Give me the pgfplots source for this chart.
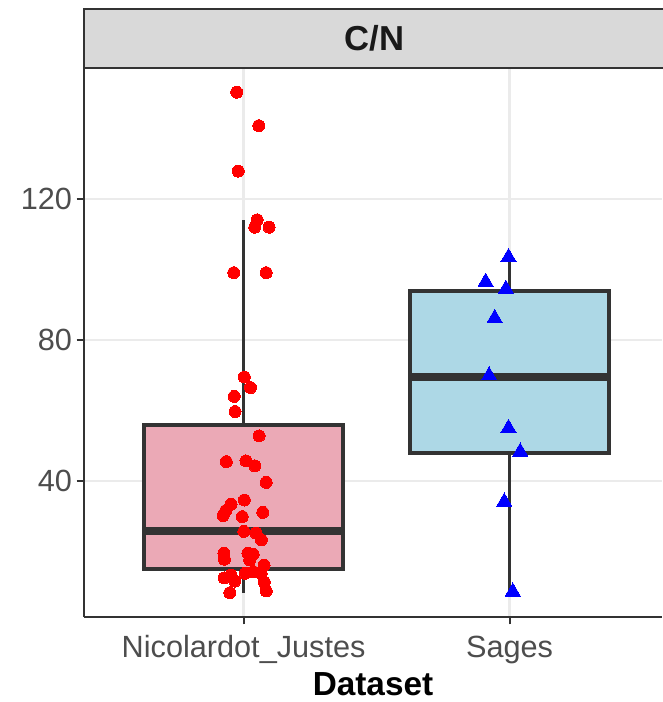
\documentclass[border=0pt]{standalone}
\usepackage{pgfplots}
\pgfplotsset{compat=1.18}
\usepackage{fontspec}
\setmainfont{Liberation Sans}
\definecolor{gridgray}{HTML}{EBEBEB}
\definecolor{dark}{HTML}{333333}
\definecolor{ticktext}{HTML}{4D4D4D}
\definecolor{stripfill}{HTML}{D9D9D9}
\definecolor{boxpink}{HTML}{EBA9B6}
\definecolor{boxblue}{HTML}{ADD8E6}

\begin{document}
\begin{tikzpicture}
\begin{axis}[
  name=ax, at={(0,0)}, anchor=south west,
  scale only axis, width=433.5pt, height=411.75pt,
  xmin=0.4, xmax=2.573, ymin=1.42, ymax=157.16,
  axis lines=left, axis line style={-, draw=dark, line width=1.5pt},
  xtick={1,2}, xticklabels={Nicolardot\_Justes,Sages},
  ytick={40,80,120},
  tick align=outside, major tick length=5.5pt,
  tick style={draw=dark, line width=1.5pt},
  ticklabel style={font=\fontsize{23}{27}\selectfont, text=ticktext},
  xticklabel style={yshift=-5pt},
  /pgf/number format/assume math mode=true,
  xmajorgrids, ymajorgrids,
  major grid style={draw=gridgray, line width=2pt},
  xlabel={\textbf{Dataset}},
  xlabel style={font=\fontsize{25}{30}\selectfont, text=black, inner sep=0pt, yshift=-3pt},
  clip=false,
]
% whiskers
\addplot[draw=dark, line width=2pt] coordinates {(1,8.3) (1,15.0)};
\addplot[draw=dark, line width=2pt] coordinates {(1,55.9) (1,114.1)};
\addplot[draw=dark, line width=2pt] coordinates {(2,8.6) (2,47.9)};
\addplot[draw=dark, line width=2pt] coordinates {(2,93.9) (2,103.5)};
% boxes (quartiles)
\addplot[draw=dark, fill=boxpink, line width=2.8pt] coordinates {(0.625,15.0) (1.375,15.0) (1.375,55.9) (0.625,55.9)} -- cycle;
\addplot[draw=dark, fill=boxblue, line width=2.8pt] coordinates {(1.625,47.9) (2.375,47.9) (2.375,93.9) (1.625,93.9)} -- cycle;
% medians
\addplot[draw=dark, line width=5.5pt] coordinates {(0.625,25.8) (1.375,25.8)};
\addplot[draw=dark, line width=5.5pt] coordinates {(1.625,69.5) (2.375,69.5)};
% jittered points
\addplot[only marks, red, mark=*, mark size=4.5pt, mark options={draw=red, fill=red, line width=0pt}] coordinates {
  (0.974,150.3) (1.057,140.8) (0.980,127.9) (1.051,114.1) (1.042,112.0) (1.096,112.0)
  (0.963,99.1) (1.085,99.1) (1.003,69.5) (1.026,66.5) (0.965,64.0) (0.968,59.7)
  (1.058,52.8) (0.935,45.5) (1.009,45.7) (1.042,44.3) (1.085,39.6) (0.953,33.4)
  (1.003,34.6) (0.933,31.6) (0.923,30.2) (0.995,29.9) (1.072,31.1) (1.001,25.7)
  (1.047,25.2) (1.067,23.3) (0.926,19.5) (0.928,17.8) (1.016,19.5) (1.036,19.2)
  (1.077,16.1) (1.023,17.6) (1.006,13.8) (1.036,14.3) (1.066,13.8) (0.953,13.3)
  (0.927,12.5) (0.967,11.6) (1.078,11.3) (1.085,8.8) (0.948,8.3)
};
\addplot[only marks, blue, mark=triangle*, mark size=6.6pt, mark options={draw=blue, fill=blue, line width=0pt}] coordinates {
  (1.996,103.5) (1.910,96.5) (1.986,94.5) (1.944,86.2) (1.923,69.9)
  (1.996,55.0) (2.040,48.3) (1.980,34.1) (2.012,8.6)
};
\end{axis}
% facet strip
\draw[fill=stripfill, draw=dark, line width=1.5pt] (ax.north west) rectangle ++(445pt,44.25pt);
\node[font=\fontsize{26}{30}\selectfont\bfseries, text=black!90] at ([shift={(218pt,22pt)}]ax.north west) {C/N};
\pgfresetboundingbox
\path (ax.south west) ++(-63pt,-63.75pt) rectangle ++(496.5pt,526.5pt);
\end{tikzpicture}
\end{document}
